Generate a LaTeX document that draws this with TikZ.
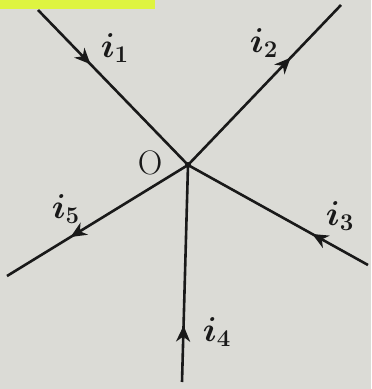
\documentclass[tikz,border=0pt]{standalone}
\usetikzlibrary{arrows.meta,decorations.markings}
\definecolor{pageGrey}{RGB}{219,219,214}
\definecolor{hiYellow}{RGB}{222,244,64}
\definecolor{inkBlack}{RGB}{25,25,25}
\tikzset{
  >={Stealth[length=8pt,width=7pt,inset=2.5pt]},
  wire/.style={draw=inkBlack, line width=1.3pt},
  midarrow/.style={postaction={decorate,decoration={markings,
              mark=at position #1 with {\arrow{>}}}}},
  curlbl/.style={font=\fontsize{17}{20}\selectfont\boldmath, text=inkBlack, inner sep=1pt},
}
\begin{document}
\begin{tikzpicture}[x=0.5pt,y=-0.5pt]
  \fill[pageGrey] (0,0) rectangle (371,389);
  \useasboundingbox (0,0) rectangle (371,389);
  \fill[hiYellow] (0,0) rectangle (155,9);
  % junction and wire ends
  \coordinate (O) at (188,165);
  \coordinate (e1) at (38,10);
  \coordinate (e2) at (341,5);
  \coordinate (e3) at (368,265);
  \coordinate (e4) at (182,382);
  \coordinate (e5) at (7,276);
  \draw[wire,midarrow=0.35] (e1) -- (O);
  \draw[wire,midarrow=0.67] (O) -- (e2);
  \draw[wire,midarrow=0.31] (e3) -- (O);
  \draw[wire,midarrow=0.26] (e4) -- (O);
  \draw[wire,midarrow=0.65] (O) -- (e5);
  \fill[inkBlack] (O) circle (3);
  % labels
  \node[curlbl,font=\fontsize{17}{20}\selectfont] (lO) at (150,163) {O};
  \node[curlbl] (l1) at (115,48) {$i_1$};
  \node[curlbl] (l2) at (264,43) {$i_2$};
  \node[curlbl] (l3) at (340,216) {$i_3$};
  \node[curlbl] (l4) at (217,332) {$i_4$};
  \node[curlbl] (l5) at (66,209) {$i_5$};
\end{tikzpicture}
\end{document}
